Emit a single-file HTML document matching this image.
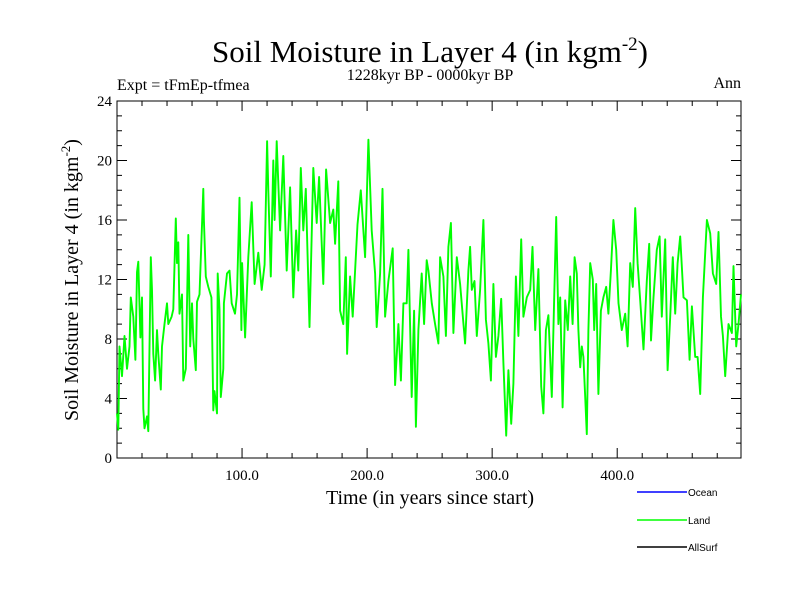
<!DOCTYPE html>
<html><head><meta charset="utf-8"><style>
body{margin:0;background:#fff;}
svg{display:block;font-family:"Liberation Serif",serif;}
</style></head><body>
<svg id="chart" width="800" height="600" viewBox="0 0 800 600">
<rect width="800" height="600" fill="#fff"/>
<text x="430" y="62" font-size="31" text-anchor="middle">Soil Moisture in Layer 4 (in kgm<tspan dy="-12" font-size="19">-2</tspan><tspan dy="12">)</tspan></text>
<text x="430" y="80" font-size="16" text-anchor="middle">1228kyr BP - 0000kyr BP</text>
<text x="117" y="90" font-size="16">Expt = tFmEp-tfmea</text>
<text x="741" y="88" font-size="16" text-anchor="end">Ann</text>
<text x="430" y="504" font-size="20" text-anchor="middle">Time (in years since start)</text>
<text transform="translate(78,280) rotate(-90)" font-size="20" text-anchor="middle">Soil Moisture in Layer 4 (in kgm<tspan dy="-8" font-size="13">-2</tspan><tspan dy="8">)</tspan></text>
<g id="plot"></g>
<g font-family="Liberation Sans, sans-serif" font-size="10">
<g><line x1="637" y1="492" x2="687" y2="492" stroke="#0000ff" stroke-width="1.5"/><text x="688" y="496">Ocean</text></g>
<g><line x1="637" y1="520" x2="687" y2="520" stroke="#00ff00" stroke-width="1.5"/><text x="688" y="524">Land</text></g>
<g><line x1="637" y1="547" x2="687" y2="547" stroke="#000" stroke-width="1.5"/><text x="688" y="551">AllSurf</text></g>
</g>
</svg>
<script>
const years=[0,1,2,4,6,8,10,11,13,14.7,16,17,18.7,20,21,22,24,25,27,28,29,30.5,32,33,35,36,38,40,41,43.7,45,47,48,49,50,52,53,55,57,58.5,60,61,63,64,66,69,69.5,71,73,75.5,76,77,78,80,80.5,82,83,85,85.5,88,90,91.7,94.4,96,98,99.5,100,102.4,105,107.7,110,113,115.7,118,120,121,123,125,
126,127.7,130.4,133,135.7,138.4,141,143.2,145,147,149,151,153.9,157,159.7,161.6,165,167.2,170.4,173,174.4,177,178.4,181,183,184,186.4,188.5,190.4,192.3,195,198.4,201,203.7,206.4,207.7,210.4,212.3,214.4,217,220.5,222.4,225,227,229,231.7,233,235.7,237.6,239,241,243.7,245.6,247.7,
249,251.7,254.4,257,258.4,261,263,265,267,269,271.7,274.4,278.4,281,282.4,283.7,285.9,287.7,290.4,293,295,297,299,301,303,305,307.2,309,311.2,313,315.2,317,319,321,323.2,325,327.7,330.4,332.3,334.4,337,339.2,341,343,345,347.7,349.6,351.2,353,354.4,356.3,358.4,360.5,362.4,364.3,365.9,367.7,369,370.4,371.7,
373,374.4,375.7,377,378.4,380.5,381.6,383.2,385,387,389,391.2,393,395,397,399.2,401,403.7,406.4,408.3,410.4,412.5,414.4,416.3,418.4,421,423.7,425.6,427,429,431.7,433.9,435.7,438.4,440.3,442.4,444.5,446.4,448.3,450.4,453,455.7,457.9,459.7,462.4,464.3,466.4,468.5,471.7,474.4,476.5,479.2,481,483,484.5,486.4,489,491.7,493,495.2,497,499];
const landValues=[3.0,1.9,7.5,5.5,8.2,6.0,7.5,10.8,9.5,6.6,12.5,13.2,8.1,10.8,3.3,2.0,2.8,1.8,13.5,11.3,7.0,5.2,8.6,7.0,4.6,7.5,9.0,10.4,9.0,9.5,10.0,16.1,13.1,14.5,9.7,11.0,5.2,6.0,15.0,7.5,10.4,8.0,5.9,10.5,11.0,18.1,16.0,12.2,11.5,10.8,9.0,3.2,4.5,3.0,12.4,10.0,4.1,6.0,10.4,12.4,12.6,10.4,9.7,11.0,17.5,8.6,13.1,8.1,13.5,17.2,11.7,13.8,11.3,13.0,21.3,18.0,12.2,20.0,
16.0,21.3,15.3,20.3,12.6,18.2,10.8,15.3,12.6,19.5,15.3,18.1,8.8,19.5,15.8,18.9,11.7,19.4,15.8,16.7,14.4,18.6,9.9,9.0,13.5,7.0,12.2,9.5,12.6,15.7,18.0,13.5,21.4,15.3,12.4,8.8,12.4,18.1,9.5,11.9,14.1,4.9,9.0,5.2,10.4,10.4,14.0,4.1,9.9,2.1,8.6,12.4,9.0,13.3,
12.6,10.4,9.0,7.7,13.5,12.2,8.2,14.2,15.8,8.4,13.5,11.7,7.7,12.6,14.2,11.3,11.9,8.2,11.3,16.0,9.3,7.7,5.2,11.7,6.8,8.2,10.7,6.4,1.5,5.9,2.3,5.0,12.2,8.2,14.7,9.5,10.8,11.3,14.2,8.6,12.7,4.8,3.0,8.6,9.6,4.1,10.8,16.2,9.0,10.8,3.4,10.6,8.6,12.2,9.0,13.5,12.4,8.6,6.1,7.5,
6.8,4.1,1.6,8.6,13.1,12.0,8.6,11.7,4.3,9.9,10.8,11.5,9.7,12.6,16.0,14.0,10.4,8.6,9.7,7.5,13.1,11.5,16.8,13.1,10.6,7.3,11.9,14.4,7.9,10.8,14.0,14.9,9.5,14.7,5.9,9.5,13.5,9.7,13.1,14.9,10.8,10.6,6.6,10.2,6.8,6.8,4.3,10.8,16.0,15.1,12.4,11.7,15.2,9.5,8.2,5.5,9.0,8.4,12.9,7.5,9.0,11.0];
const yTickValues=[0,4,8,12,16,20,24];
const xTickValues=[100,200,300,400];
const xTickLabels=["100.0","200.0","300.0","400.0"];

const L=117,R=741,T=101,B=458,xMin=0,xMax=499,yMin=0,yMax=24;
const sx=v=>L+(v-xMin)/(xMax-xMin)*(R-L);
const sy=v=>B-(v-yMin)/(yMax-yMin)*(B-T);
const NS="http://www.w3.org/2000/svg";
const plot=document.getElementById('plot');
function mk(tag,attrs,parent){const e=document.createElementNS(NS,tag);for(const k in attrs)e.setAttribute(k,attrs[k]);(parent||plot).appendChild(e);return e;}

const frame=mk('rect',{x:L,y:T,width:R-L,height:B-T,fill:'none',stroke:'#000','stroke-width':1});



const axes=mk('g',{});


for(let v=yMin;v<=yMax;v++){
  const major=v%4===0, len=major?10:5, y=sy(v);
  mk('line',{x1:L,y1:y,x2:L+len,y2:y,stroke:'#000'},axes);
  mk('line',{x1:R,y1:y,x2:R-len,y2:y,stroke:'#000'},axes);
}
yTickValues.forEach(v=>{
  const t=mk('text',{x:L-5,y:sy(v)+5,'font-size':15,'text-anchor':'end'},axes);
  t.textContent=v;
  
  
});
for(let v=20;v<xMax;v+=20){
  const major=v%100===0,len=major?10:5,x=sx(v);
  mk('line',{x1:x,y1:B,x2:x,y2:B-len,stroke:'#000'},axes);
  mk('line',{x1:x,y1:T,x2:x,y2:T+len,stroke:'#000'},axes);
}
xTickValues.forEach((v,i)=>{
  const t=mk('text',{x:sx(v),y:B+22,'font-size':15,'text-anchor':'middle'},axes);
  t.textContent=xTickLabels[i];
  
  
});

const pts=years.map((yr,i)=>sx(yr).toFixed(1)+','+sy(landValues[i]).toFixed(1)).join(' ');
const line=mk('polyline',{points:pts,fill:'none',stroke:'#00ff00','stroke-width':1.9,'stroke-linejoin':'round'});


</script>
</body></html>
